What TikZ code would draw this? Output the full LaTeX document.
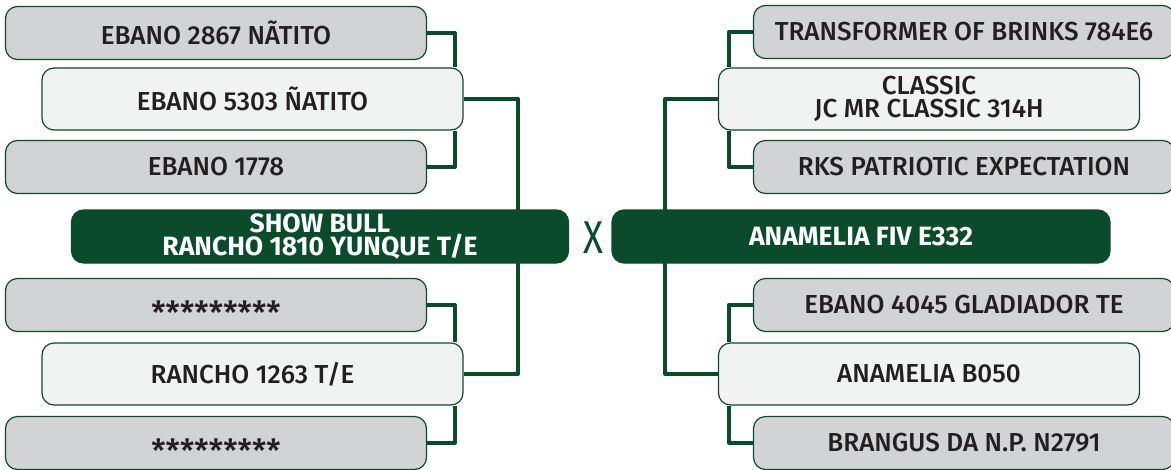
\documentclass[tikz,border=0pt]{standalone}
\usepackage{fontspec}
\setmainfont[UprightFont=* Medium, BoldFont=* Bold]{Fira Sans}
\newfontfamily\mong[FakeStretch=0.8]{Fira Sans}
\definecolor{xanh}{HTML}{0A4B2C}
\definecolor{xam}{HTML}{D1D3D4}
\definecolor{sang}{HTML}{F1F2F2}
\definecolor{chu}{HTML}{231F20}
\newcommand{\saos}{\raisebox{-10pt}{\fontsize{32}{22}\selectfont *********}}
\begin{document}
\begin{tikzpicture}[x=1pt,y=-1pt, font=\fontsize{26}{23}\selectfont, line join=round,
	box/.style={draw=xanh, line width=1.2pt, rounded corners=12pt, inner sep=0pt, text=chu, align=center},
	ong/.style={box, fill=xam, minimum width=421pt, minimum height=53pt},
	cha/.style={box, fill=sang, minimum width=421pt, minimum height=62pt},
	goc/.style={box, fill=xanh, text=white, minimum width=497pt, minimum height=53pt, font=\fontsize{26.5}{23}\selectfont\bfseries},
	noi/.style={draw=xanh, line width=4pt}]
	\useasboundingbox (0,0) rectangle (1171,469);
	% --- Cột trái ---
	\node[ong] (L1) at (216,33) {EBANO 2867 NÃTITO};
	\node[cha] (L2) at (252.5,99) {EBANO 5303 ÑATITO};
	\node[ong] (L3) at (216,167) {EBANO 1778};
	\node[ong, text height=18pt, text depth=0pt] (L4) at (216,305) {\saos};
	\node[cha] (L5) at (252.5,374) {RANCHO 1263 T/E};
	\node[ong, text height=18pt, text depth=0pt] (L6) at (216,443) {\saos};
	
	% --- Cột phải ---
	\node[ong] (R1) at (964,32) {TRANSFORMER OF BRINKS 784E6};
	\node[cha] (R2) at (929,99) {CLASSIC\\JC MR CLASSIC 314H};
	\node[ong] (R3) at (964,167) {RKS PATRIOTIC EXPECTATION};
	\node[ong] (R4) at (964,305) {EBANO 4045 GLADIADOR TE};
	\node[cha] (R5) at (929,374) {ANAMELIA B050};
	\node[ong] (R6) at (964,443) {BRANGUS DA N.P. N2791};
	
	% --- Đường nối ---
	\coordinate (bL) at (518,236);
	\coordinate (bR) at (665,236);
	\draw[noi] (L1.east) -| ([xshift=-9pt]L2.north east);
	\draw[noi] ([xshift=-9pt]L2.south east) |- (L3.east);
	\draw[noi] (L4.east) -| ([xshift=-9pt]L5.north east);
	\draw[noi] ([xshift=-9pt]L5.south east) |- (L6.east);
	\draw[noi] (L2.east) -| (bL) |- (L5.east);
	\draw[noi] (R1.west) -| ([xshift=11pt]R2.north west);
	\draw[noi] ([xshift=11pt]R2.south west) |- (R3.west);
	\draw[noi] (R4.west) -| ([xshift=11pt]R5.north west);
	\draw[noi] ([xshift=11pt]R5.south west) |- (R6.west);
	\draw[noi] (R2.west) -| (bR) |- (R5.west);
	
	% --- Cặp lai ---
	\node[goc] (SB) at (320,236.5) {SHOW BULL\\RANCHO 1810 YUNQUE T/E};
	\node[goc, minimum width=498pt] (AN) at (861,236.5) {ANAMELIA FIV E332};
	\node[text=xanh, font=\fontsize{46}{46}\mong] (X) at (593,238) {X};
\end{tikzpicture}
\end{document}
